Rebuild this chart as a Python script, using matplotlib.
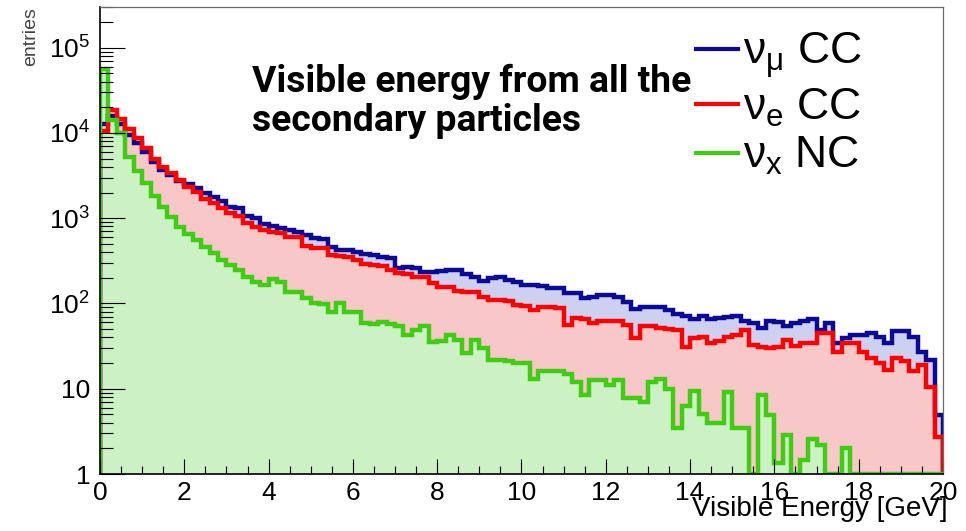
import numpy as np
import matplotlib
matplotlib.use("Agg")
import matplotlib.pyplot as plt
from matplotlib.ticker import MultipleLocator, LogLocator, FuncFormatter, NullFormatter
from matplotlib.lines import Line2D

# ---------------- histogram contents (100 bins, 0-20 GeV) ----------------
bin_edges = np.linspace(0, 20, 101)

numu_cc = [12600, 15800, 12600, 9500, 7600, 5900, 4600, 3700, 3200, 2750,
           2500, 2240, 1950, 1780, 1580, 1350, 1320, 1070, 1000, 850,
           810, 760, 725, 690, 630, 590, 575, 457, 427, 427,
           407, 380, 372, 347, 339, 263, 269, 263, 234, 234,
           240, 245, 245, 224, 204, 186, 200, 204, 190, 178,
           166, 166, 162, 151, 151, 132, 132, 115, 120, 126,
           126, 120, 105, 87, 91, 91, 91, 83, 76, 72,
           65, 72, 66, 68, 69, 71, 63, 59, 51, 62,
           60, 54, 59, 62, 65, 49, 59, 34, 39, 43,
           43, 45, 41, 34, 47, 47, 41, 27, 22, 4.9]

nue_cc = [10500, 18500, 14500, 11200, 8700, 6600, 5000, 4000, 3400, 2800,
          2350, 2050, 1700, 1500, 1320, 1150, 1050, 890, 780, 720,
          690, 675, 600, 600, 470, 445, 445, 370, 365, 355,
          325, 290, 280, 275, 250, 225, 220, 205, 203, 175,
          158, 155, 141, 138, 137, 120, 110, 109, 107, 95,
          93, 83, 91, 91, 89, 56, 68, 66, 59, 63,
          63, 63, 56, 39, 54, 54, 52, 50, 49, 31,
          39, 41, 34, 36, 41, 43, 49, 33, 31, 30,
          31, 37, 32, 34, 34, 45, 45, 27, 34, 34,
          27, 23, 20, 16.6, 23, 21, 16, 19, 10.5, 2.75]

nux_nc = [56000, 14000, 10000, 5200, 3600, 2600, 1800, 1350, 1020, 790,
          660, 550, 460, 390, 325, 280, 245, 205, 178, 166,
          195, 178, 138, 136, 115, 100, 99, 79, 100, 80,
          79, 59, 58, 60, 57, 55, 43, 49, 54, 35,
          36, 43, 37, 26, 37, 30, 22, 22, 21, 20,
          20, 13, 16, 16, 16, 15, 12, 8.5, 12.6, 12.6,
          11, 12.6, 7.8, 7.8, 6.9, 12, 13, 10, 3.5, 6.2,
          9.5, 5.1, 4.0, 4.0, 9.1, 3.5, 3.5, 0, 8.5, 4.9,
          1.35, 2.9, 0, 1.45, 2.6, 2.2, 0, 0, 2.0, 0,
          0, 0, 0, 0, 0, 0, 0, 0, 0, 0]

series_labels = [r"ν$_{\mathdefault{μ}}$ CC", r"ν$_{\mathdefault{e}}$ CC", r"ν$_{\mathdefault{x}}$ NC"]
line_colors = ["#0a0a96", "#ff0000", "#3fcc12"]
fill_colors = ["#cdd0ee", "#f8c8c8", "#cbf1c4"]

# ---------------- style ----------------
plt.rcParams["font.family"] = ["Liberation Sans", "DejaVu Sans"]
plt.rcParams["mathtext.fontset"] = "custom"
plt.rcParams["mathtext.rm"] = "Liberation Sans"
plt.rcParams["mathtext.it"] = "Liberation Sans:italic"

fig = plt.figure(figsize=(9.66, 5.31), dpi=100)
ax = fig.add_axes([0.1035, 0.1073, 0.8727, 0.8795])

ax.set_yscale("log")
ax.set_xlim(0, 20)
ax.set_ylim(1, 3e5)

floor = 1  # empty bins sit on the bottom of the frame
hists = [np.maximum(np.asarray(h, dtype=float), floor) for h in (numu_cc, nue_cc, nux_nc)]

# fills first, outlines on top so every outline stays visible
for h, fc in zip(hists, fill_colors):
    ax.stairs(h, bin_edges, baseline=floor, fill=True, color=fc, lw=0)
for h, lc in zip(hists, line_colors):
    ax.stairs(h, bin_edges, baseline=floor, color=lc, lw=3.2)

# ---------------- axes ----------------
def log_label(v, pos):
    e = int(round(np.log10(v)))
    if e == 0:
        return "1"
    if e == 1:
        return "10"
    return r"$\mathdefault{10^{%d}}$" % e

ax.yaxis.set_major_locator(LogLocator(base=10, numticks=10))
ax.yaxis.set_minor_locator(LogLocator(base=10, subs=np.arange(2, 10), numticks=20))
ax.yaxis.set_major_formatter(FuncFormatter(log_label))
ax.yaxis.set_minor_formatter(NullFormatter())
ax.xaxis.set_major_locator(MultipleLocator(2))
ax.xaxis.set_minor_locator(MultipleLocator(0.5))

ax.tick_params(axis="y", which="major", direction="in", length=18, width=0.8,
               pad=7, labelsize=19, right=False)
ax.tick_params(axis="y", which="minor", direction="in", length=9.5, width=0.8, right=False)
ax.tick_params(axis="x", which="major", direction="in", length=11, width=0.8,
               pad=5, labelsize=19, top=False)
ax.tick_params(axis="x", which="minor", direction="in", length=5.5, width=0.8, top=False)

for side in ("left", "bottom"):
    ax.spines[side].set_linewidth(1.2)
    ax.spines[side].set_color("black")
for side in ("top", "right"):
    ax.spines[side].set_linewidth(0.9)
    ax.spines[side].set_color("#6a6a6a")

ax.set_xlabel("Visible Energy [GeV]", fontsize=20, ha="right")
ax.xaxis.set_label_coords(1.005, -0.047)
ax.set_ylabel("entries", fontsize=14, color="#444444", loc="top")
ax.yaxis.set_label_coords(-0.072, 1.0)

# ---------------- legend ----------------
handles = [Line2D([], [], color=c, lw=3.0) for c in line_colors]
ax.legend(handles, series_labels, loc="upper right", bbox_to_anchor=(862 / 966, 1 - 30 / 531),
          bbox_transform=fig.transFigure, frameon=False, fontsize=32, handlelength=0.95,
          handletextpad=0.12, labelspacing=0.14, borderpad=0, borderaxespad=0)

fig.text(252 / 966, 1 - 64 / 531, "Visible energy from all the\nsecondary particles",
         fontsize=26.8, fontweight="bold", family="Roboto", va="top", ha="left",
         linespacing=1.1)

fig.savefig("out.png", dpi=100)
